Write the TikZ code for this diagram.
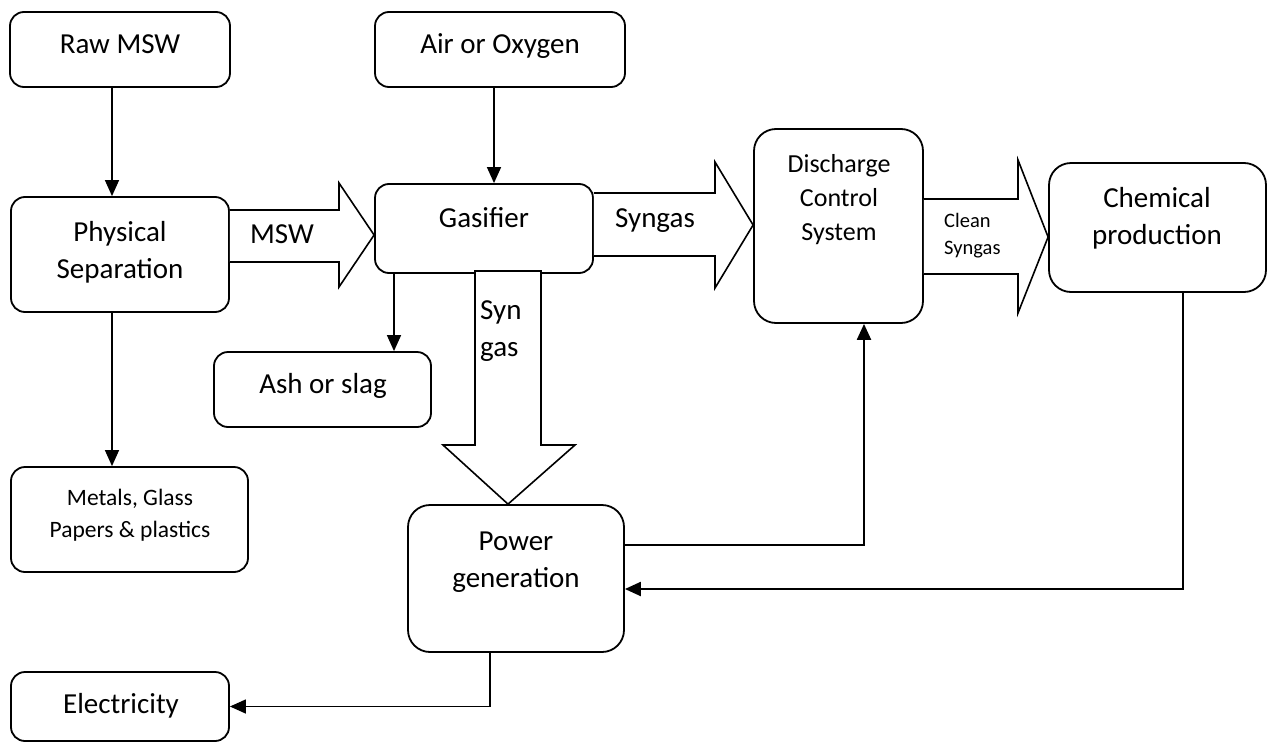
\documentclass[tikz,border=0pt]{standalone}
\usepackage{fontspec}
\setmainfont{Carlito}
\usetikzlibrary{arrows.meta}
\begin{document}
\begin{tikzpicture}[x=1pt,y=-1pt,
  box/.style={draw, line width=1.8pt, rounded corners=14pt, inner sep=0pt},
  tallbox/.style={box, rounded corners=22pt},
  txt/.style={anchor=base, inner sep=0pt, font=\fontsize{29}{35}\selectfont},
  dcstxt/.style={txt, font=\fontsize{26}{31}\selectfont},
  midtxt/.style={txt, font=\fontsize{23.5}{28}\selectfont},
  smalltxt/.style={txt, font=\fontsize{20.5}{24}\selectfont},
  arr/.style={line width=1.4pt, -{Triangle[length=16pt,width=14pt]}},
  thickarr/.style={arr, line width=2.2pt},
  blockarrow/.style={draw, line width=1.6pt, fill=white, line join=miter}]
\useasboundingbox (0,0) rectangle (1274,744);

% process boxes
\node[box, minimum width=220pt, minimum height=75pt]  (raw)    at (120,49.5)   {};
\node[box, minimum width=250pt, minimum height=75pt]  (air)    at (500,49.5)   {};
\node[box, minimum width=218pt, minimum height=115pt] (phys)   at (120,254.5)  {};
\node[box, minimum width=218pt, minimum height=89pt]  (gas)    at (484,228.5)  {};
\node[box, minimum width=217pt, minimum height=75pt]  (ash)    at (322.5,389.5) {};
\node[box, minimum width=237pt, minimum height=105pt] (metals) at (129.5,519.5) {};
\node[tallbox, minimum width=216pt, minimum height=147pt] (power) at (516,578.5) {};
\node[box, minimum width=218pt, minimum height=69pt]  (elec)   at (120,706.5)  {};
\node[tallbox, minimum width=169pt, minimum height=194pt] (dcs) at (838.5,226) {};
\node[tallbox, minimum width=217pt, minimum height=129pt] (chem) at (1157.5,227.5) {};

% block arrows carrying the material and gas streams
\draw[blockarrow] (phys.east |- 0,210) -- (339,210) -- (339,183) -- (gas.west |- 0,235)
  -- (339,287) -- (339,262) -- (phys.east |- 0,262);
\draw[blockarrow] (gas.east |- 0,193) -- (715,193) -- (715,162) -- (dcs.west |- 0,225)
  -- (715,288) -- (715,256) -- (gas.east |- 0,256);
\draw[blockarrow] (dcs.east |- 0,199) -- (1018,199) -- (1018,160) -- (chem.west |- 0,237)
  -- (1018,313) -- (1018,274) -- (dcs.east |- 0,274);
\draw[blockarrow] (475,271) -- (475,445) -- (443,445) -- (power.north -| 508,0)
  -- (575,445) -- (541,445) -- (541,271) -- cycle;

% labels
\node[txt] (rawT)   at (120,53)  {Raw MSW};
\node[txt] (airT)   at (500,53)  {Air or Oxygen};
\node[txt] (physT1) at (120,241) {Physical};
\node[txt] (physT2) at (120,278) {Separation};
\node[txt] (gasT)   at (484,227) {Gasifier};
\node[txt] (mswT)   at (282,243) {MSW};
\node[txt, anchor=base west] (synT1) at (480,319) {Syn};
\node[txt, anchor=base west] (synT2) at (480,356) {gas};
\node[txt] (sgT)    at (655,227) {Syngas};
\node[dcstxt] (dcsT1) at (839,172) {Discharge};
\node[dcstxt] (dcsT2) at (839,206) {Control};
\node[dcstxt] (dcsT3) at (839,240) {System};
\node[smalltxt, anchor=base west] (cleanT1) at (944,227) {Clean};
\node[smalltxt, anchor=base west] (cleanT2) at (944,254) {Syngas};
\node[txt] (chemT1) at (1157,207) {Chemical};
\node[txt] (chemT2) at (1157,244) {production};
\node[txt] (ashT)   at (323,393) {Ash or slag};
\node[midtxt] (metT1) at (130,505) {Metals, Glass};
\node[midtxt] (metT2) at (130,537) {Papers \& plastics};
\node[txt] (powT1)  at (516,550) {Power};
\node[txt] (powT2)  at (516,587) {generation};
\node[txt] (elecT)  at (121,713) {Electricity};

% connector lanes
\coordinate (xa) at (112,0);
\coordinate (xb) at (494,0);
\coordinate (xc) at (394,0);
\coordinate (xd) at (490,0);
\coordinate (xe) at (864,0);
\coordinate (xf) at (1183,0);
\coordinate (ya) at (0,545);
\coordinate (yb) at (0,589);

\draw[arr] (raw.south -| xa) -- (phys.north -| xa);
\draw[arr] (air.south -| xb) -- (gas.north -| xb);
\draw[arr] (gas.south -| xc) -- (ash.north -| xc);
\draw[arr] (phys.south -| xa) -- (metals.north -| xa);
\draw[arr] (power.south -| xd) |- (elec.east);
\draw[thickarr] (power.east |- ya) -| (dcs.south -| xe);
\draw[thickarr] (chem.south -| xf) |- (power.east |- yb);
\end{tikzpicture}
\end{document}
